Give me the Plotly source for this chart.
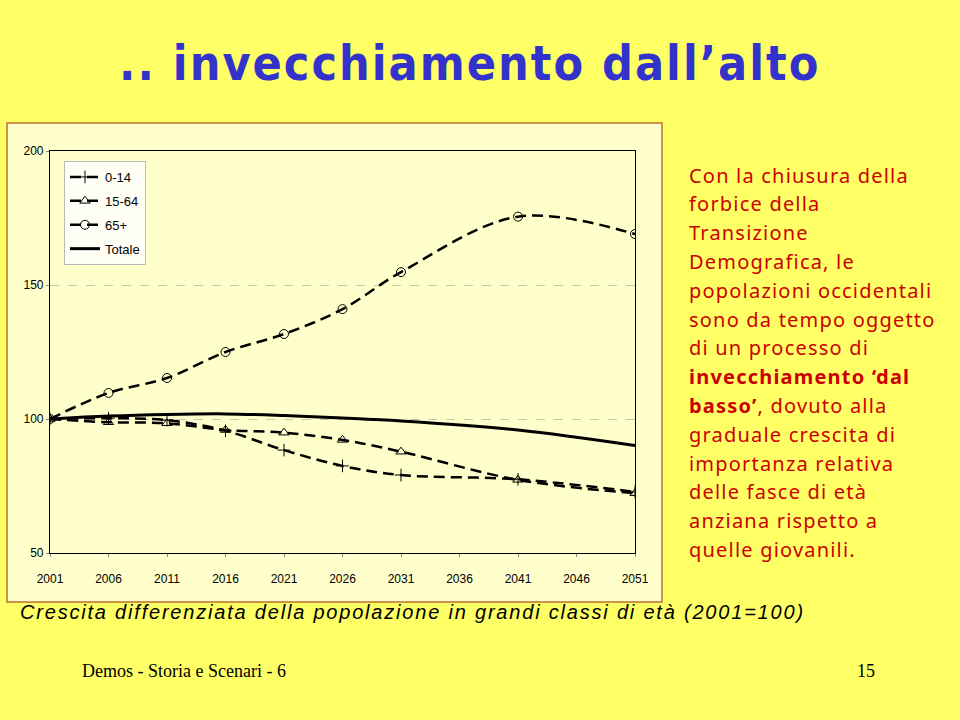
import plotly.graph_objects as go

# ---- data ----
years = [2001, 2006, 2011, 2016, 2021, 2026, 2031, 2041, 2051]
age_0_14 = [100, 100.3, 99.6, 95.6, 88.4, 82.5, 79.1, 77.5, 72.8]
age_15_64 = [100, 98.8, 98.4, 95.9, 94.9, 92.2, 87.8, 77.3, 72.3]
age_65p = [100, 109.7, 115.3, 125.0, 131.7, 141.0, 154.8, 175.5, 169.0]
totale = [100, 101.1, 101.7, 101.9, 101.3, 100.4, 99.3, 95.9, 90.1]
x_ticks = [2001, 2006, 2011, 2016, 2021, 2026, 2031, 2036, 2041, 2046, 2051]
y_ticks = [50, 100, 150, 200]

title_text = ".. invecchiamento dall\u2019alto"
caption_text = "Crescita differenziata della popolazione in grandi classi di et\u00e0 (2001=100)"
footer_left = "Demos - Storia e Scenari - 6"
footer_right = "15"
side_lines = [
    "Con la chiusura della",
    "forbice della",
    "Transizione",
    "Demografica, le",
    "popolazioni occidentali",
    "sono da tempo oggetto",
    "di un processo di",
    "<b>invecchiamento \u2018dal</b>",
    "<b>basso\u2019</b>, dovuto alla",
    "graduale crescita di",
    "importanza relativa",
    "delle fasce di et\u00e0",
    "anziana rispetto a",
    "quelle giovanili.",
]

W, H = 960, 720
def px(x):
    return x / W
def py(y):
    return 1 - y / H

fig = go.Figure()
dash = "11px,6px"
series = [
    ("0-14", age_0_14, "cross-thin", dash, 2.5),
    ("15-64", age_15_64, "triangle-up-open", dash, 2.5),
    ("65+", age_65p, "circle-open", dash, 2.5),
]
for i, (name, vals, sym, d, w) in enumerate(series):
    fig.add_trace(go.Scatter(
        x=years, y=vals, name=name, mode="lines+markers",
        line=dict(color="black", width=w, dash=d, shape="spline", smoothing=1.0),
        marker=dict(symbol=sym, size=9, color="black", line=dict(color="black", width=1)),
        legendgroup=f"g{i}",
    ))
fig.add_trace(go.Scatter(
    x=years, y=totale, name="Totale", mode="lines",
    line=dict(color="black", width=3, shape="spline", smoothing=1.0),
    legendgroup="g3",
))

# chart frame box
fig.add_shape(type="rect", xref="paper", yref="paper",
              x0=px(7), x1=px(662), y0=py(602), y1=py(123),
              fillcolor="#FFFFCC", line=dict(color="#C0702A", width=1.5), layer="below")

annotations = [
    dict(text='<span style="letter-spacing:2px">' + title_text + "</span>",
         x=px(469), y=py(63), xref="paper", yref="paper", showarrow=False,
         font=dict(family="DejaVu Sans Condensed, Liberation Sans Narrow, Liberation Sans", size=48,
                   color="#3333CC", weight="bold"),
         xanchor="center", yanchor="middle"),
    dict(text='<span style="letter-spacing:1.8px">' + caption_text + "</span>",
         x=px(18), y=py(612), xref="paper", yref="paper", showarrow=False,
         font=dict(family="Liberation Sans, Arial", size=20, color="black", style="italic"),
         xanchor="left", yanchor="middle"),
    dict(text=footer_left, x=px(80), y=py(671), xref="paper", yref="paper", showarrow=False,
         font=dict(family="Liberation Serif, Times New Roman", size=18, color="black"),
         xanchor="left", yanchor="middle"),
    dict(text=footer_right, x=px(866), y=py(671), xref="paper", yref="paper", showarrow=False,
         font=dict(family="Liberation Serif, Times New Roman", size=18, color="black"),
         xanchor="center", yanchor="middle"),
]
for i, line in enumerate(side_lines):
    annotations.append(dict(
        text='<span style="letter-spacing:1.2px">' + line + "</span>",
        x=px(687), y=py(175 + i * 28.8), xref="paper", yref="paper",
        showarrow=False, xanchor="left", yanchor="middle",
        font=dict(family="Noto Sans, DejaVu Sans", size=20, color="#CC0000"),
    ))

fig.update_layout(
    width=W, height=H,
    autosize=False,
    margin=dict(l=0, r=0, t=0, b=0, autoexpand=False),
    paper_bgcolor="#FFFF66",
    plot_bgcolor="#FFFFCC",
    showlegend=True,
    legend=dict(x=px(64), y=py(161), xanchor="left", yanchor="top",
                bgcolor="#FFFFF5", bordercolor="#BBBBBB", borderwidth=1,
                font=dict(family="Liberation Sans, Arial", size=13, color="black"),
                tracegroupgap=4, itemwidth=30),
    annotations=annotations,
    xaxis=dict(domain=[px(50), px(635)], range=[2001, 2051], automargin=False,
               tickvals=x_ticks, ticktext=[str(v) for v in x_ticks],
               showgrid=False, zeroline=False,
               showline=True, linecolor="black", linewidth=1.2, mirror=True,
               ticks="outside", ticklen=3, tickcolor="#888888",
               ticklabelstandoff=11,
               tickfont=dict(family="Liberation Sans, Arial", size=12, color="black")),
    yaxis=dict(domain=[py(553), py(151)], range=[50, 200], automargin=False,
               tickvals=y_ticks,
               showgrid=True, gridcolor="#C8C8B0", griddash="dash", gridwidth=1,
               zeroline=False,
               showline=True, linecolor="black", linewidth=1.2, mirror=True,
               ticks="outside", ticklen=3, tickcolor="#888888",
               tickfont=dict(family="Liberation Sans, Arial", size=12, color="black")),
)

fig.write_html(
    "out.html",
    config={"displayModeBar": False},
    post_script="document.body.style.margin='0';document.body.style.background='#FFFF66';document.body.style.overflow='hidden';",
)
